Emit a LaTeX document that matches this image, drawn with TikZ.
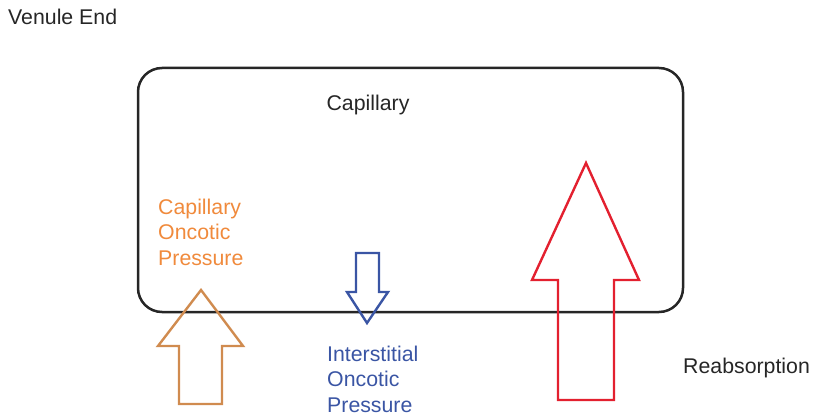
\documentclass[tikz,border=0pt]{standalone}
\usepackage{fontspec}
\setmainfont{Liberation Sans}
\usepackage{xcolor}
\usetikzlibrary{positioning}
\definecolor{oncoticorange}{HTML}{F08A3C}
\definecolor{arrowtan}{HTML}{D08B4F}
\definecolor{interblue}{HTML}{3A55A4}
\definecolor{reabsred}{HTML}{E3202F}

\begin{document}
\begin{tikzpicture}
  [x=1pt,y=-1pt,
   every node/.style={inner sep=0pt,font=\fontsize{21.3}{25.5}\selectfont,text=black!85},
   label/.style={anchor=west,align=left},
   blockarrow/.style={line width=2.4pt,line join=miter}]
  \useasboundingbox (0,0) rectangle (821,417);

  % capillary
  \draw[line width=2.5pt,black!85,rounded corners=24pt] (138,68) rectangle (683,312);
  \node (cap) at (368,105) {Capillary};
  \node[label] (venule) at (8,17) {Venule End};

  % pressures
  \draw[blockarrow,arrowtan] (201,290) -- (243,346) -- (222,346) -- (222,404)
    -- (179,404) -- (179,346) -- (158,346) -- cycle;
  \node[label,text=oncoticorange] (cop) at (158,232) {Capillary\\Oncotic\\Pressure};

  \draw[blockarrow,interblue] (356,253) -- (379,253) -- (379,292) -- (388,292)
    -- (367,323) -- (347,292) -- (356,292) -- cycle;
  \node[label,text=interblue] (iop) at (327,379) {Interstitial\\Oncotic\\Pressure};

  \draw[blockarrow,reabsred] (586,163) -- (639,280) -- (614,280) -- (614,400)
    -- (558,400) -- (558,280) -- (532,280) -- cycle;
  \node[label] (reab) at (683,368) {Reabsorption};
\end{tikzpicture}
\end{document}
